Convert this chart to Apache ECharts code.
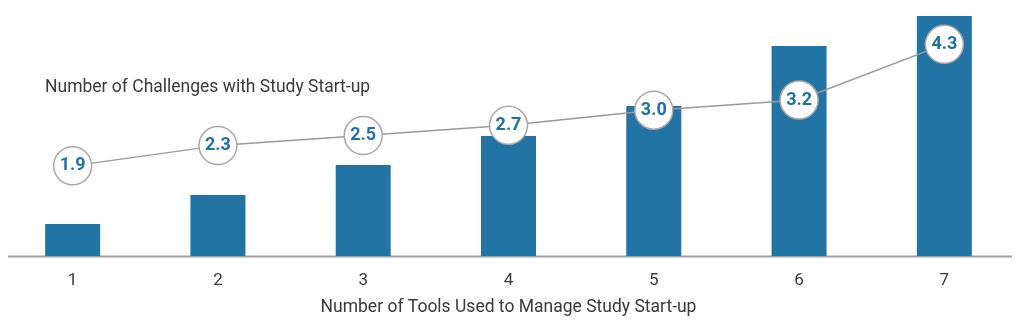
<!DOCTYPE html>
<html>
<head>
<meta charset="utf-8">
<script src="https://cdn.jsdelivr.net/npm/echarts@6/dist/echarts.min.js"></script>
<style>
html,body{margin:0;padding:0;background:#fff;}
#chart{width:1018px;height:335px;}
</style>
</head>
<body>
<div id="chart"></div>
<script>
var categories = ['1','2','3','4','5','6','7'];
var barValues = [32, 61, 91, 120, 150, 210, 240];
var challengeValues = [1.9, 2.3, 2.5, 2.7, 3.0, 3.2, 4.3];
var lineTitle = 'Number of Challenges with Study Start-up';
var xAxisTitle = 'Number of Tools Used to Manage Study Start-up';

var chart = echarts.init(document.getElementById('chart'), null, {renderer:'canvas'});
var textColor = '#3a3a3a';
var blue = '#2274a5';
chart.setOption({
  animation: false,
  textStyle: {fontFamily: 'Roboto'},
  title: {
    text: lineTitle,
    left: 40, top: 74,
    textStyle: {fontFamily: 'Roboto', fontSize: 17.5, fontWeight: 'normal', color: textColor}
  },
  graphic: [{
    type: 'line',
    shape: {x1: 8, y1: 256.5, x2: 1012, y2: 256.5},
    style: {stroke: '#a0a0a0', lineWidth: 2},
    z: 1
  }],
  grid: {left: -2, right: 1, top: 16, bottom: 79, containLabel: false},
  xAxis: {
    type: 'category',
    data: categories,
    axisLine: {show: false},
    axisTick: {show: false},
    axisLabel: {fontFamily: 'Roboto', fontSize: 17, color: textColor, margin: 16},
    name: xAxisTitle,
    nameLocation: 'middle',
    nameGap: 43,
    nameTextStyle: {fontFamily: 'Roboto', fontSize: 17.5, color: textColor}
  },
  yAxis: [{
    type: 'value', min: 0, max: 240, show: false, splitLine: {show: false}
  }, {
    type: 'value', min: 0.12, max: 4.86, show: false, splitLine: {show: false}
  }],
  series: [{
    type: 'bar',
    data: barValues,
    barWidth: 55,
    itemStyle: {color: blue},
    z: 2
  }, {
    type: 'line',
    yAxisIndex: 1,
    data: challengeValues,
    symbol: 'circle',
    symbolSize: 38,
    lineStyle: {color: '#9a9a9a', width: 1.5},
    itemStyle: {color: '#ffffff', borderColor: '#a8a8a8', borderWidth: 1.5},
    label: {
      show: true,
      position: 'inside',
      formatter: function(p){ return p.value.toFixed(1); },
      fontFamily: 'Roboto',
      fontSize: 18,
      fontWeight: 'bold',
      color: '#1f72a8'
    },
    z: 3
  }]
});
</script>
</body>
</html>
